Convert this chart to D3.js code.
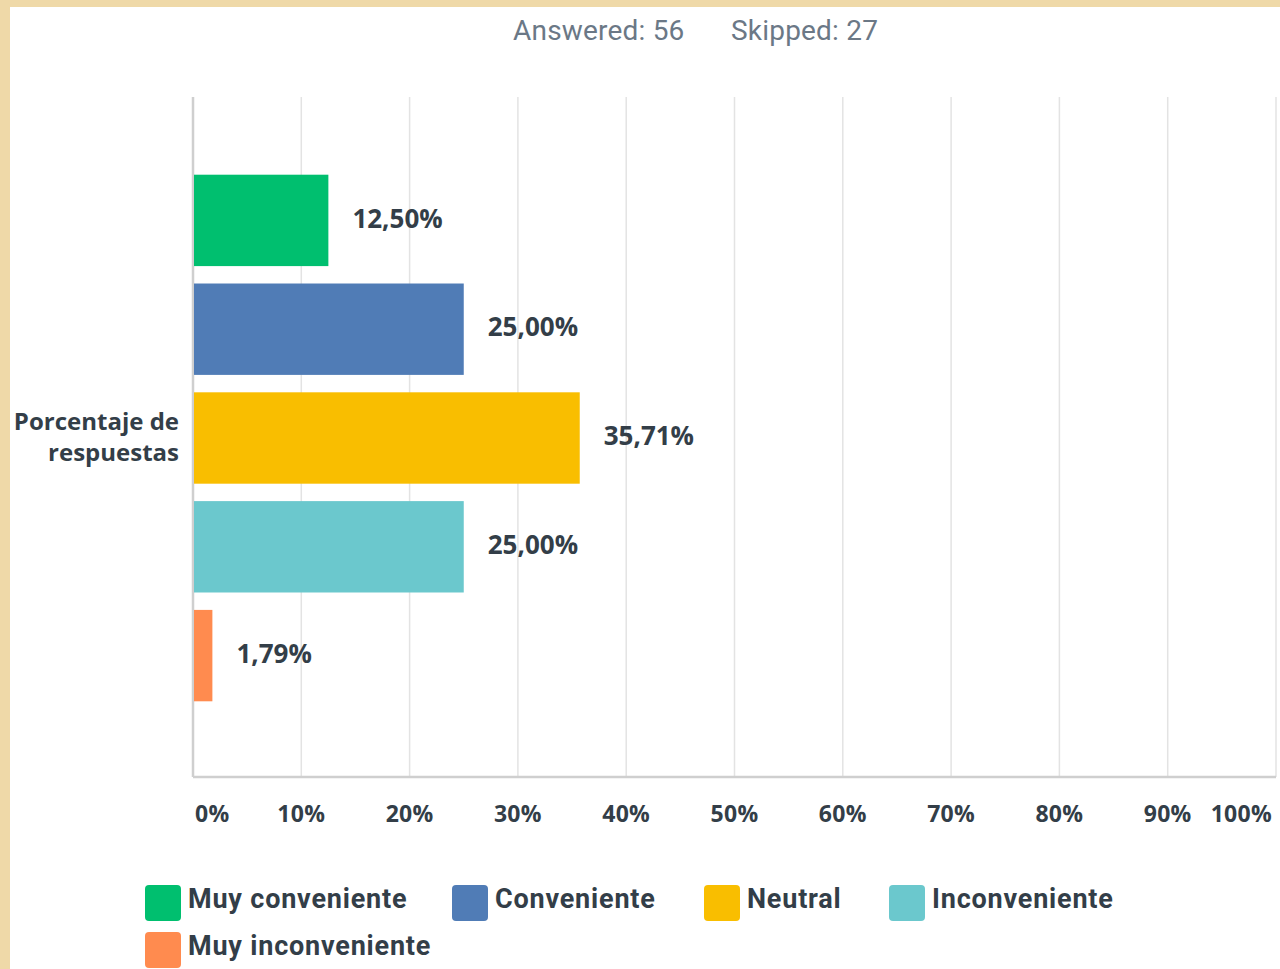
<!DOCTYPE html>
<html>
<head>
<meta charset="utf-8">
<script src="https://cdn.jsdelivr.net/npm/d3@7"></script>
<style>
  html, body { margin: 0; padding: 0; background: #efd9a8; }
  svg { display: block; }
</style>
</head>
<body>
<script>
// survey result, one question
const categories = ["Muy conveniente", "Conveniente", "Neutral", "Inconveniente", "Muy inconveniente"];
const values = [12.50, 25.00, 35.71, 25.00, 1.79];
const colors = ["#00bf6f", "#507cb6", "#f9be00", "#6bc8cd", "#ff8b4f"];
const ticks = [0, 10, 20, 30, 40, 50, 60, 70, 80, 90, 100];
const rowLabel = ["Porcentaje de", "respuestas"];
const answered = 56, skipped = 27;

const W = 1280, H = 969;
const svg = d3.select("body").append("svg")
    .attr("width", W)
    .attr("height", H);

// beige frame + white panel
svg.append("rect").attr("width", W).attr("height", H).attr("fill", "#efd9a8");
svg.append("rect").attr("x", 10).attr("y", 7).attr("width", W - 10).attr("height", H - 7).attr("fill", "#fff");

const fmt = v => d3.format(".2f")(v).replace(".", ",") + "%";

const x = d3.scaleLinear().domain([0, 100]).range([193, 1276]);
const y = d3.scaleBand().domain(categories).range([166, 710]).paddingInner(0.16).paddingOuter(0.08);
const plotTop = 97, plotBase = 777;

// header
const head = svg.append("text")
    .attr("y", 40)
    .attr("font-family", "Roboto, sans-serif")
    .attr("font-size", 28)
    .attr("letter-spacing", 0.2)
    .attr("fill", "#6b7886");
head.append("tspan").attr("x", 513).text("Answered: " + answered);
head.append("tspan").attr("x", 731).text("Skipped: " + skipped);

// grid
svg.append("g").selectAll("line")
  .data(ticks.slice(1))
  .join("line")
    .attr("x1", d => x(d)).attr("x2", d => x(d))
    .attr("y1", plotTop).attr("y2", plotBase)
    .attr("stroke", "#e3e3e3")
    .attr("stroke-width", 1.5);

// axis lines
svg.append("line").attr("x1", x(0)).attr("x2", x(0)).attr("y1", plotTop).attr("y2", plotBase)
  .attr("stroke", "#cfcfcf").attr("stroke-width", 2.5);
svg.append("line").attr("x1", x(0)).attr("x2", x(100)).attr("y1", plotBase).attr("y2", plotBase)
  .attr("stroke", "#cfcfcf").attr("stroke-width", 2.5);

// bars
svg.append("g").selectAll("rect")
  .data(categories)
  .join("rect")
    .attr("x", x(0) + 1)
    .attr("y", d => y(d))
    .attr("width", (d, i) => x(values[i]) - x(0) - 1)
    .attr("height", y.bandwidth())
    .attr("fill", (d, i) => colors[i]);

// value labels
svg.append("g").selectAll("text")
  .data(categories)
  .join("text")
    .attr("x", (d, i) => x(values[i]) + 24)
    .attr("y", d => y(d) + y.bandwidth() / 2 - 2)
    .attr("dy", "0.35em")
    .attr("font-family", "'Open Sans', sans-serif")
    .attr("font-weight", 700)
    .attr("font-size", 26)
    .attr("letter-spacing", 0)
    .attr("fill", "#333e48")
    .text((d, i) => fmt(values[i]));

// x tick labels
svg.append("g").selectAll("text")
  .data(ticks)
  .join("text")
    .attr("x", d => d === 0 ? x(d) + 2 : d === 100 ? x(d) - 4 : x(d))
    .attr("y", 822)
    .attr("text-anchor", d => d === 0 ? "start" : d === 100 ? "end" : "middle")
    .attr("font-family", "'Open Sans', sans-serif")
    .attr("font-weight", 700)
    .attr("font-size", 23)
    .attr("letter-spacing", 0.3)
    .attr("fill", "#333e48")
    .text(d => d + "%");

// row label
svg.append("text")
    .attr("text-anchor", "end")
    .attr("font-family", "'Open Sans', sans-serif")
    .attr("font-weight", 700)
    .attr("font-size", 24)
    .attr("letter-spacing", 0)
    .attr("fill", "#333e48")
  .selectAll("tspan")
  .data(rowLabel)
  .join("tspan")
    .attr("x", 179)
    .attr("y", (d, i) => 430 + i * 31)
    .text(d => d);

// legend
const legendPos = [[145, 885], [452, 885], [704, 885], [889, 885], [145, 932]];
const lg = svg.append("g").selectAll("g")
  .data(categories)
  .join("g")
    .attr("transform", (d, i) => `translate(${legendPos[i][0]},${legendPos[i][1]})`);
lg.append("rect")
    .attr("width", 36).attr("height", 36).attr("rx", 4)
    .attr("fill", (d, i) => colors[i]);
lg.append("text")
    .attr("x", 43)
    .attr("y", 23)
    .attr("font-family", "Roboto, sans-serif")
    .attr("font-weight", 700)
    .attr("font-size", 27)
    .attr("letter-spacing", 0.8)
    .attr("fill", "#333e48")
    .text(d => d);
</script>
</body>
</html>
